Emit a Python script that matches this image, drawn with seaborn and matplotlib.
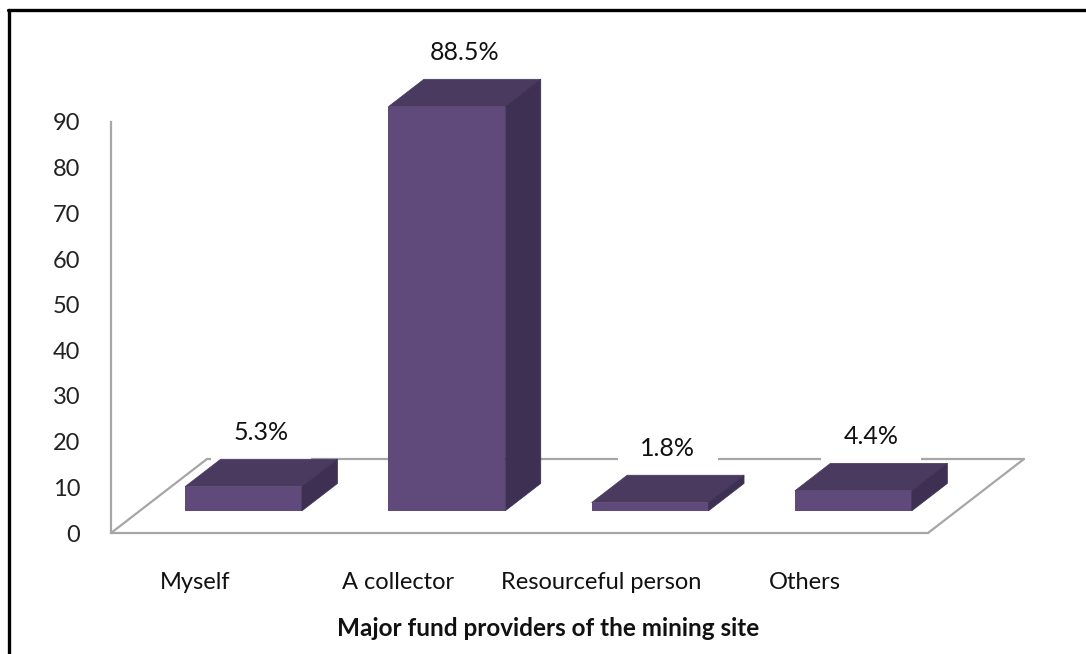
import matplotlib
matplotlib.use("Agg")
import matplotlib.pyplot as plt
from matplotlib.patches import Polygon
from matplotlib.lines import Line2D
import seaborn as sns
import pandas as pd

# Data
categories = ["Myself", "A collector", "Resourceful person", "Others"]
shares = [5.3, 88.5, 1.8, 4.4]
value_labels = ["5.3%", "88.5%", "1.8%", "4.4%"]
y_ticks = [0, 10, 20, 30, 40, 50, 60, 70, 80, 90]
x_title = "Major fund providers of the mining site"

df = pd.DataFrame({"provider": categories, "share": shares})

sns.set_theme(style="white")
plt.rcParams["font.family"] = ["Lato", "DejaVu Sans"]

FRONT = "#5f4a7b"
TOP = "#4a3a60"
SIDE = "#3e3052"
GRID = "#a6a6a6"

W, H = 1086, 654
fig = plt.figure(figsize=(W / 100, H / 100), dpi=100)
fig.patch.set_facecolor("white")

# plot region in pixels (from top-left)
left_px, right_px, top_px, bottom_px = 111, 1027, 122, 533
ax = fig.add_axes([left_px / W, 1 - bottom_px / H,
                   (right_px - left_px) / W, (bottom_px - top_px) / H])
ax.set_facecolor("none")

# pseudo-3D geometry (data units)
floor_dx, floor_dy = 0.472, 16.2      # depth vector of the floor
front_frac = 0.30                     # bar front plane, as a fraction of floor depth
bar_frac = 0.37                       # bar depth, as a fraction of floor depth
base_y = front_frac * floor_dy
bdx, bdy = bar_frac * floor_dx, bar_frac * floor_dy

sns.barplot(data=df, x="provider", y="share", color=FRONT, saturation=1,
            width=0.575, bottom=base_y, linewidth=0, ax=ax, zorder=4)

ax.set_xlim(-0.652, 3.854)
ax.set_ylim(0, 90)

# floor parallelogram
x_fl, x_fr = -0.652, 3.367
floor_lines = [
    ([x_fl, x_fr], [0, 0]),
    ([x_fr, x_fr + floor_dx], [0, floor_dy]),
    ([x_fl, x_fl + floor_dx], [0, floor_dy]),
    ([x_fl + floor_dx, x_fr + floor_dx], [floor_dy, floor_dy]),
]
for xs, ys in floor_lines:
    ax.add_line(Line2D(xs, ys, color=GRID, lw=1.6, clip_on=False, zorder=1))

# top and side faces built from the seaborn bars
for patch, lab in zip(ax.patches[:len(categories)], value_labels):
    x0 = patch.get_x()
    x1 = x0 + patch.get_width()
    y0 = patch.get_y()
    y1 = y0 + patch.get_height()
    top = Polygon([(x0, y1), (x1, y1), (x1 + bdx, y1 + bdy), (x0 + bdx, y1 + bdy)],
                  closed=True, facecolor=TOP, edgecolor=TOP, lw=0.5,
                  clip_on=False, zorder=4)
    side = Polygon([(x1, y0), (x1 + bdx, y0 + bdy), (x1 + bdx, y1 + bdy), (x1, y1)],
                   closed=True, facecolor=SIDE, edgecolor=SIDE, lw=0.5,
                   clip_on=False, zorder=4)
    ax.add_patch(top)
    ax.add_patch(side)
    patch.set_clip_on(False)
    ax.annotate(lab, xy=((x0 + x1) / 2 + bdx / 2, y1 + bdy), xytext=(0, 27),
                textcoords="offset pixels", ha="center", va="center",
                fontsize=18, color="#111111", zorder=3, annotation_clip=False,
                bbox=dict(boxstyle="square,pad=0.9", facecolor="white",
                          edgecolor="none"))

# axes styling
for s in ("top", "right", "bottom"):
    ax.spines[s].set_visible(False)
ax.spines["left"].set_color(GRID)
ax.spines["left"].set_linewidth(1.6)
ax.set_yticks(y_ticks)
ax.set_yticklabels([str(t) for t in y_ticks])
ax.tick_params(axis="y", length=0, pad=22, labelsize=17, labelcolor="#222222")

ax.set_xticks([i - 0.24 for i in range(len(categories))])
ax.set_xticklabels(categories)
ax.tick_params(axis="x", length=0, pad=28, labelsize=17, labelcolor="#111111")

ax.set_ylabel("")
ax.set_xlabel(x_title, fontsize=17.5, fontweight="bold", color="#111111", va="center")
ax.xaxis.set_label_coords((548 - left_px) / (right_px - left_px),
                          (bottom_px - 628) / (bottom_px - top_px))

# outer frame (top and left edges)
fig.add_artist(Line2D([8 / W, 1], [1 - 9.5 / H, 1 - 9.5 / H], color="black", lw=2.4,
                      transform=fig.transFigure))
fig.add_artist(Line2D([8.5 / W, 8.5 / W], [0, 1 - 9.5 / H], color="black", lw=2.4,
                      transform=fig.transFigure))

fig.savefig("out.png", dpi=100)
